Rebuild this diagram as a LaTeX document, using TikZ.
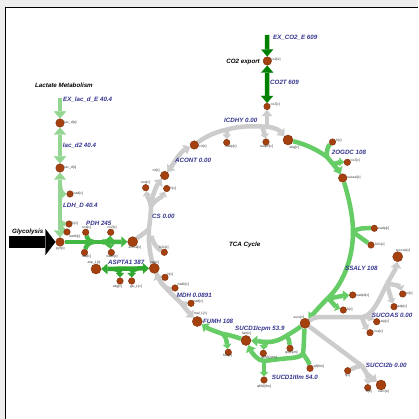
\documentclass[tikz,border=0pt]{standalone}
\usepackage{fontspec}
\newfontfamily\labfont{Liberation Sans}
\usetikzlibrary{arrows.meta}
\pgfdeclarelayer{bgA}\pgfdeclarelayer{bgB}
\pgfsetlayers{bgA,bgB,main}
\definecolor{metab}{HTML}{A5400F}
\definecolor{metabd}{HTML}{7A2E08}
\definecolor{mlab}{HTML}{333333}
\definecolor{rlab}{HTML}{33338F}
\definecolor{gline}{HTML}{CCCCCC}
\definecolor{tgreen}{HTML}{66CC66}
\definecolor{lgreen}{HTML}{92D692}
\definecolor{pgreen}{HTML}{44B844}
\definecolor{agreen}{HTML}{2EA82E}
\definecolor{dgreen}{HTML}{008000}
\definecolor{framebg}{HTML}{EEEEEE}
\begin{document}
\begin{tikzpicture}[x=1pt,y=-1pt,
  met/.style={circle, fill=metab, draw=metabd, line width=0.4pt, inner sep=0pt, outer sep=0.3pt, minimum size=6.5pt},
  metM/.style={met, minimum size=8.5pt},
  metL/.style={met, minimum size=10pt},
  ml/.style={font={\labfont\fontsize{3.4}{3.6}\selectfont}, text=mlab, inner sep=0pt, anchor=west},
  mlc/.style={ml, anchor=center},
  rl/.style={font={\labfont\bfseries\itshape\fontsize{6.2}{7}\selectfont}, text=rlab, inner sep=0pt, anchor=base west},
  tl/.style={rl, text=black},
  rxn/.style={line width=4.5pt},
  gry/.style={rxn, draw=gline},
  tg/.style={rxn, draw=tgreen},
  lac/.style={rxn, draw=lgreen},
  pdh/.style={rxn, draw=pgreen},
  asp/.style={rxn, draw=agreen},
  dg/.style={rxn, draw=dgreen},
  tipE/.style={-{Triangle[width=10.5pt,length=6pt,line width=0.1pt]}},
  tipS/.style={{Triangle[width=10.5pt,length=6pt,line width=0.1pt]}-},
  tipB/.style={{Triangle[width=10.5pt,length=6pt,line width=0.1pt]}-{Triangle[width=10.5pt,length=6pt,line width=0.1pt]}},
  tipL/.style={{Triangle[width=12pt,length=7pt,line width=0.1pt]}-{Triangle[width=12pt,length=7pt,line width=0.1pt]}},
  tipLE/.style={-{Triangle[width=12pt,length=7pt,line width=0.1pt]}},
  tips/.style={-{Triangle[width=8.5pt,length=4.5pt,line width=0.1pt]}}
]
\useasboundingbox (0,0) rectangle (418,419);
\begin{pgfonlayer}{bgA}
\fill[framebg] (0,0) rectangle (418,419);
\fill[white] (6,8) rectangle (418,419);
\draw[line width=1.3pt] (5.7,419) -- (5.7,7.7) -- (418,7.7);
\end{pgfonlayer}

% ---------- metabolites ----------
\node[metM] (lace) at (60,123) {};
\node[metM] (lacc) at (60,168) {};
\node[met] (nadL) at (70,194) {};
\node[met] (hL) at (69,224) {};
\node[met] (nadhL) at (67,232) {};
\node[metM] (pyr) at (60,242) {};
\node[met] (coaP) at (85.7,232.3) {};
\node[met] (nadP) at (84.5,252.5) {};
\node[met] (co2P) at (110.7,232.3) {};
\node[met] (nadhP) at (111.3,252.5) {};
\node[metL] (accoa) at (132.7,241.7) {};
\node[metL] (asp) at (96,269) {};
\node[metL] (oaa) at (154.3,268.3) {};
\node[met] (akgA) at (120,281) {};
\node[met] (glu) at (131.7,281) {};
\node[met] (h2oC) at (164.3,252.3) {};
\node[met] (coaC) at (145.7,187.7) {};
\node[met] (hC) at (166.7,188.5) {};
\node[metM] (cit) at (164.7,175.5) {};
\node[metM] (icit) at (194.3,145) {};
\node[met] (nadpI) at (226.7,142.5) {};
\node[met] (nadphI) at (266,142) {};
\node[met] (co2I) at (267,106.5) {};
\node[metL] (akg) at (288,140) {};
\node[metM] (co2e) at (267.3,61) {};
\node[met] (hO) at (332.5,142) {};
\node[met] (co2O) at (347.3,162.3) {};
\node[metM] (sucsal) at (342.7,178) {};
\node[met] (nadpS) at (374.3,228.3) {};
\node[met] (h2oS) at (371,245) {};
\node[met] (nadphS) at (352.7,295) {};
\node[met] (hS) at (343.3,310) {};
\node[metL] (succ) at (305,323.3) {};
\node[metL] (succoa) at (397.7,256.7) {};
\node[met] (piU) at (402.7,294) {};
\node[met] (adpU) at (394,306.7) {};
\node[met] (atpU) at (376.7,321.7) {};
\node[met] (coaU) at (370,332.7) {};
\node[met] (hc2) at (347.7,370.7) {};
\node[met] (he2) at (367.7,387.7) {};
\node[metL] (succe) at (381,385) {};
\node[metL] (fum) at (246,340.5) {};
\node[met] (q8c) at (290,348.3) {};
\node[met] (q8h2c) at (263.3,353.3) {};
\node[met] (q8t) at (310,368.3) {};
\node[met] (q8h2t) at (264,380) {};
\node[metL] (mal) at (197.3,321.5) {};
\node[met] (h2oF) at (228.3,352.3) {};
\node[met] (hM) at (165,277.3) {};
\node[met] (nadhM) at (175,288) {};
\node[met] (nadM) at (191,303.3) {};

% ---------- junctions ----------
\coordinate (exlac) at (60,98);
\coordinate (jL1) at (60,185);
\coordinate (jL2) at (60,221);
\coordinate (glyc) at (9,242);
\coordinate (jP1) at (94,242);
\coordinate (jP2) at (102,242);
\coordinate (jA1) at (114,269);
\coordinate (jA2) at (137,269);
\coordinate (jC1) at (149,229);
\coordinate (jC3) at (151.5,236);
\coordinate (jC2) at (151,206);
\coordinate (jI1) at (227,129.5);
\coordinate (jI2) at (262,126.5);
\coordinate (jI3) at (267,127);
\coordinate (exco2) at (267,35);
\coordinate (jO1) at (327,157);
\coordinate (jO2) at (333,164);
\coordinate (jS1) at (353,232);
\coordinate (jS2) at (328,298);
\coordinate (jU1) at (362,317);
\coordinate (jU2) at (387,284);
\coordinate (jT1) at (362,366);
\coordinate (jT2) at (367,374);
\coordinate (jD1) at (286,336);
\coordinate (jD2) at (268,342);
\coordinate (jE1) at (303,354);
\coordinate (jE2) at (264,361);
\coordinate (jF1) at (223,334);
\coordinate (jM1) at (160,281);
\coordinate (jM2) at (181,303);

% ---------- reactions ----------
\begin{pgfonlayer}{bgB}
% lactate
\draw[lac,tipLE] (exlac) -- (lace);
\draw[lac,tipL] (lace) -- (lacc);
\draw[lac,tipL] (lacc) -- (pyr);
\draw[lac,tips] (jL1) .. controls (60,192) and (63,194) .. (nadL);
\draw[lac] (jL2) .. controls (62,224) .. (hL);
\draw[lac] (jL2) .. controls (61,229) .. (nadhL);
% glycolysis
\draw[line width=12.5pt, -{Triangle[width=26pt,length=10pt,line width=0.1pt]}] (glyc) -- (pyr);
% PDH
\draw[pdh] (pyr) -- (jP1) -- (jP2);
\draw[pdh,tipE] (jP2) -- (accoa);
\draw[pdh] (coaP) .. controls (87,238) and (89,242) .. (jP1);
\draw[pdh] (nadP) .. controls (86,246) and (89,242) .. (jP1);
\draw[pdh,tips] (jP2) .. controls (107,242) and (110,240) .. (co2P);
\draw[pdh,tips] (jP2) .. controls (107,242) and (110,244) .. (nadhP);
% ASPTA1
\draw[asp,tipB] (asp) -- (oaa);
\draw[asp,tips] (jA1) .. controls (118,269) and (120,272) .. (akgA);
\draw[asp,tips] (jA2) .. controls (133,269) and (131.7,272) .. (glu);
% CS
\draw[gry] (oaa) .. controls (150,255) and (148,240) .. (jC1) .. controls (150,220) and (151,212) .. (jC2);
\draw[gry,tipE] (jC2) .. controls (152,195) and (157,185) .. (cit);
\draw[gry,tips] (jC2) .. controls (150,200) and (147,196) .. (coaC);
\draw[gry,tips] (jC2) .. controls (155,200) and (162,197) .. (hC);
\draw[gry] (accoa) .. controls (140,236) and (146,232) .. (jC1);
\draw[gry] (jC3) .. controls (153,244) and (158,249) .. (h2oC);
% ACONT
\draw[gry,tipB] (cit) .. controls (172,166) and (180,152) .. (icit);
% ICDHY
\draw[gry] (icit) .. controls (205,137) and (215,132) .. (jI1) .. controls (240,126) and (252,126) .. (jI2) -- (jI3);
\draw[gry,tipE] (jI3) .. controls (275,127) and (280,131) .. (akg);
\draw[gry,tips] (jI1) -- (nadpI);
\draw[gry,tips] (jI2) .. controls (264,130) .. (nadphI);
\draw[gry,tipE] (jI3) -- (co2I);
% CO2 export
\draw[dg,tipLE] (exco2) -- (co2e);
\draw[dg,tipL] (co2e) -- (co2I);
% 2OGDC
\draw[tg] (akg) .. controls (305,144) and (318,150) .. (jO1) .. controls (330,160) .. (jO2);
\draw[tg,tipE] (jO2) .. controls (336,168) and (339,171) .. (sucsal);
\draw[tg] (hO) .. controls (328,146) and (326,152) .. (jO1);
\draw[tg,tips] (jO2) .. controls (338,163) and (341,162) .. (co2O);
% SSALY
\draw[tg] (sucsal) .. controls (348,195) and (353,215) .. (jS1) .. controls (353,255) and (345,282) .. (jS2);
\draw[tg,tipE] (jS2) .. controls (320,306) and (314,313) .. (succ);
\draw[tg] (jS1) .. controls (357,228) and (365,228) .. (nadpS);
\draw[tg] (jS1) .. controls (357,235) and (364,240) .. (h2oS);
\draw[tg,tipE] (jS2) .. controls (335,298) and (340,296) .. (nadphS);
\draw[tg,tips] (jS2) .. controls (332,302) and (336,307) .. (hS);
% SUCOAS
\draw[gry] (succ) .. controls (315,317) .. (330,317) -- (jU1) .. controls (372,317) and (380,298) .. (jU2);
\draw[gry,tipE] (jU2) .. controls (392,275) and (396,268) .. (succoa);
\draw[gry,tips] (jU2) .. controls (393,284) and (400,286) .. (piU);
\draw[gry,tips] (jU2) .. controls (389,292) and (391,298) .. (adpU);
\draw[gry,tips] (jU1) .. controls (368,317) and (371,318) .. (atpU);
\draw[gry,tips] (jU1) .. controls (363,322) and (366,327) .. (coaU);
% SUCCt2b
\draw[gry] (succ) -- (jT1) -- (jT2);
\draw[gry,tipE] (jT2) -- (succe);
\draw[gry] (hc2) .. controls (354,368) and (358,366) .. (jT1);
\draw[gry,tips] (jT2) .. controls (368,378) .. (he2);
% SUCD1Icpm
\draw[tg] (succ) .. controls (296,330) .. (jD1) .. controls (280,340) and (274,342) .. (jD2);
\draw[tg,tipE] (jD2) .. controls (262,342) and (257,341) .. (fum);
\draw[tg] (jD1) .. controls (289,339) .. (q8c);
\draw[tg,tips] (jD2) .. controls (264,344) .. (q8h2c);
% SUCD1Itlm
\draw[tg] (succ) .. controls (304,335) and (304,345) .. (jE1) .. controls (300,358) and (290,358) .. (280,359) -- (jE2);
\draw[tg,tipE] (jE2) .. controls (258,361) and (252,353) .. (fum);
\draw[tg] (jE1) .. controls (306,358) and (309,362) .. (q8t);
\draw[tg,tips] (jE2) -- (q8h2t);
% FUMH
\draw[tg] (fum) .. controls (236,337) and (230,335) .. (jF1);
\draw[tg,tipE] (jF1) .. controls (214,331) and (207,328) .. (mal);
\draw[tg,tips] (jF1) .. controls (226,338) .. (h2oF);
% MDH
\draw[gry,tipS] (oaa) .. controls (157,275) .. (jM1) .. controls (168,291) and (175,297) .. (jM2);
\draw[gry,tipE] (jM2) .. controls (186,309) and (190,314) .. (mal);
\draw[gry] (jM1) .. controls (162,279) .. (hM);
\draw[gry] (jM1) .. controls (166,290) and (170,289) .. (nadhM);
\draw[gry] (jM2) .. controls (184,304) and (187,304) .. (nadM);
\end{pgfonlayer}

% ---------- metabolite labels ----------
\node[ml] (t1) at (64.5,123) {lac\_d[e]};
\node[ml] (t2) at (64.5,168) {lac\_d[c]};
\node[ml] (t3) at (73.5,193.5) {nad[c]};
\node[ml] (t4) at (72.5,224) {h[c]};
\node[ml] (t5) at (69,236.8) {nadh[c]};
\node[ml] (t6) at (56,248.5) {pyr[c]};
\node[mlc] (t7) at (86.5,227.5) {coa[c]};
\node[mlc] (t8) at (112,227.5) {co2[c]};
\node[mlc] (t9) at (86.5,257) {nad[c]};
\node[mlc] (t10) at (112,257) {nadh[c]};
\node[mlc] (t11) at (135,247.2) {accoa[c]};
\node[mlc] (t12) at (94,262.5) {asp\_L[c]};
\node[mlc] (t13) at (117.5,286.3) {akg[c]};
\node[mlc] (t14) at (136,286.3) {glu\_L[c]};
\node[mlc] (t15) at (154.5,262.5) {oaa[c]};
\node[mlc] (t16) at (164,247.5) {h2o[c]};
\node[mlc] (t17) at (145.5,182.5) {coa[c]};
\node[ml] (t18) at (170.5,188.5) {h[c]};
\node[mlc] (t19) at (156,170.7) {cit[c]};
\node[ml] (t20) at (198.5,146.5) {icit[c]};
\node[mlc] (t21) at (231,146.8) {nadp[c]};
\node[mlc] (t22) at (266.5,146.8) {nadph[c]};
\node[ml] (t23) at (270.5,105) {co2[c]};
\node[ml] (t24) at (289.5,147.2) {akg[c]};
\node[ml] (t25) at (271,59.3) {co2[e]};
\node[ml] (t26) at (336,140.5) {h[c]};
\node[ml] (t27) at (350.5,161) {co2[c]};
\node[ml] (t28) at (347.2,177.3) {sucsal[c]};
\node[ml] (t29) at (378,229) {nadp[c]};
\node[ml] (t30) at (375,245) {h2o[c]};
\node[ml] (t31) at (356,295.5) {nadph[c]};
\node[ml] (t32) at (347,310) {h[c]};
\node[mlc] (t33) at (299,318) {succ[c]};
\node[mlc] (t34) at (403,250.5) {succoa[c]};
\node[ml] (t35) at (406,293.5) {pi[c]};
\node[ml] (t36) at (397.5,306.3) {adp[c]};
\node[ml] (t37) at (380.5,321.7) {atp[c]};
\node[ml] (t38) at (373.5,331.7) {coa[c]};
\node[mlc] (t39) at (347.5,375.3) {h[c]};
\node[mlc] (t40) at (369,392) {h[e]};
\node[mlc] (t41) at (383.5,392) {succ[e]};
\node[mlc] (t42) at (246.5,334) {fum[c]};
\node[mlc] (t43) at (291.5,353) {q8[cpm]};
\node[mlc] (t44) at (269,357.3) {q8h2[cpm]};
\node[ml] (t45) at (313.5,367) {q8[tlm]};
\node[mlc] (t46) at (264,386.3) {q8h2[tlm]};
\node[mlc] (t47) at (227.5,356) {h2o[c]};
\node[mlc] (t48) at (200.5,314) {mal\_L[c]};
\node[ml] (t49) at (167.5,275) {h[c]};
\node[ml] (t50) at (177.5,284.3) {nadh[c]};
\node[ml] (t51) at (193.5,301.7) {nad[c]};

% ---------- reaction labels ----------
\node[rl] (r1) at (63,101.2) {EX\_lac\_d\_E 40.4};
\node[rl] (r2) at (62.7,147.9) {lac\_d2 40.4};
\node[rl] (r3) at (63,207.9) {LDH\_D 40.4};
\node[rl] (r4) at (86,225.2) {PDH 245};
\node[rl] (r5) at (108,264.2) {ASPTA1 387};
\node[rl] (r6) at (152,218.2) {CS 0.00};
\node[rl] (r7) at (175,162.2) {ACONT 0.00};
\node[rl] (r8) at (224,122.2) {ICDHY 0.00};
\node[rl] (r9) at (273,39.5) {EX\_CO2\_E 609};
\node[rl] (r10) at (270,84.9) {CO2T 609};
\node[rl] (r11) at (331.7,154.5) {2OGDC 108};
\node[rl] (r12) at (345,270.2) {SSALY 108};
\node[rl] (r13) at (371.7,317.9) {SUCOAS 0.00};
\node[rl] (r14) at (365.7,367.5) {SUCCt2b 0.00};
\node[rl] (r15) at (235,330.7) {SUCD1Icpm 53.9};
\node[rl] (r16) at (271.7,379.5) {SUCD1Itlm 54.0};
\node[rl] (r17) at (203,323.2) {FUMH 108};
\node[rl] (r18) at (176.7,297.2) {MDH 0.0891};
\node[tl] (b1) at (35,87.2) {Lactate Metabolism};
\node[tl, anchor=base east] (b2) at (260,63.2) {CO2 export};
\node[tl] (b3) at (229,246.5) {TCA Cycle};
\node[tl] (b4) at (12,233.2) {Glycolysis};
\end{tikzpicture}
\end{document}
